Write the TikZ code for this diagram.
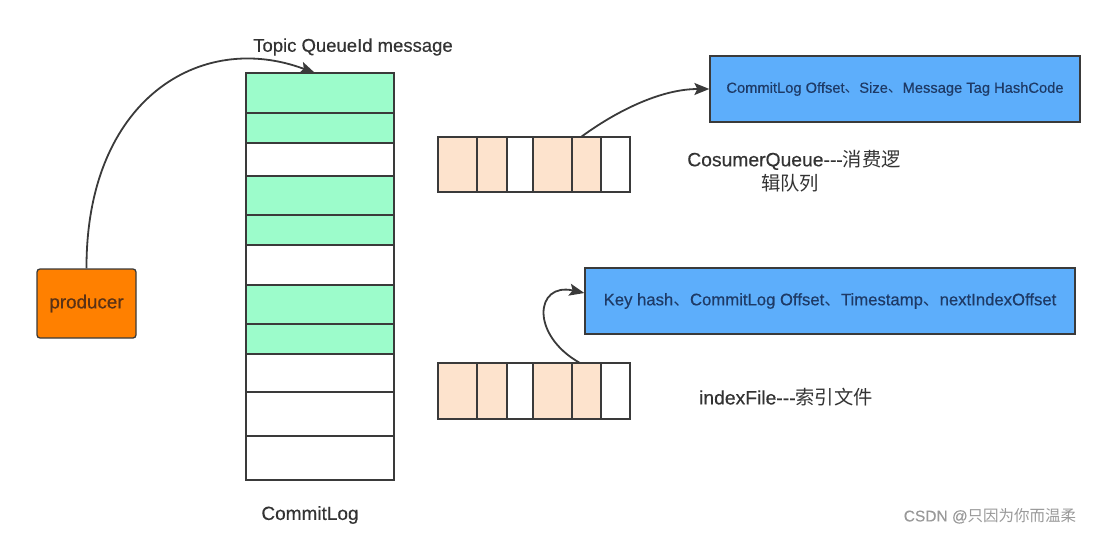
\documentclass[tikz,border=0pt]{standalone}
\usepackage{fontspec}
\setmainfont{Liberation Sans}[FakeBold=0.4]
\newfontfamily\cjk{Noto Sans CJK SC}
\usetikzlibrary{arrows.meta}
\definecolor{mint}{HTML}{9CFCCB}
\definecolor{peach}{HTML}{FDE3CD}
\definecolor{bluebox}{HTML}{5DAEFB}
\definecolor{orangebox}{HTML}{FF8000}
\definecolor{edge}{HTML}{3A3A3A}
\definecolor{txt}{HTML}{333333}
\definecolor{bluetxt}{HTML}{1E3A66}
\definecolor{prodtxt}{HTML}{5A3216}
\newcommand{\cm}{{\cjk 、}}
\tikzset{
  cellbox/.style={draw=edge, line width=1.6pt},
  infobox/.style={draw=edge, line width=1.3pt, fill=bluebox, text=bluetxt, inner sep=0pt},
  lbl/.style={text=txt, inner sep=0pt},
  conn/.style={draw=edge, line width=1.8pt, -{Stealth[length=15pt,width=12pt,inset=3pt]}},
}
\begin{document}
\begin{tikzpicture}[x=1pt,y=-1pt]
\useasboundingbox (0,0) rectangle (1108,535);
% producer
\node[draw=edge, line width=1.3pt, fill=orangebox, rounded corners=3pt, minimum width=99pt, minimum height=69pt, text=prodtxt, font=\fontsize{18.8}{18.8}\selectfont] (producer) at (86.5,303.5) {producer};
% CommitLog cells
\foreach \ya/\yb/\col [count=\i] in {73/113/mint,113/143/mint,143/176/white,176/215/mint,215/245/mint,245/285/white,285/324/mint,324/354/mint,354/392/white,392/436/white,436/480/white}{
  \path[cellbox, fill=\col] (246,\ya) rectangle (394,\yb);
}
\node[lbl, font=\fontsize{18.5}{18.5}\selectfont] (toplbl) at (353,47) {Topic QueueId message};
\node[lbl, font=\fontsize{19}{19}\selectfont] (loglbl) at (310,515) {CommitLog};
\coordinate (logtop) at (315,73);
% consumer queue
\foreach \xa/\xb/\col [count=\i] in {438/477/peach,477/507/peach,507/533/white,533/572/peach,572/601/peach,601/630/white}{
  \path[cellbox, fill=\col] (\xa,137) rectangle (\xb,192);
}
\coordinate (cqstart) at (581,137);
\node[infobox, minimum width=370pt, minimum height=66pt, font=\fontsize{14.7}{14.7}\selectfont] (cqinfo) at (895,89) {CommitLog Offset\cm Size\cm Message Tag HashCode};
\node[lbl, font=\fontsize{19.3}{19.3}\selectfont] (cqlbl1) at (794,160) {CosumerQueue-{}-{}-{\cjk 消费逻}};
\node[lbl, font=\fontsize{19.3}{19.3}\selectfont] (cqlbl2) at (790,183) {\cjk 辑队列};
% index file
\foreach \xa/\xb/\col [count=\i] in {438/477/peach,477/507/peach,507/533/white,533/572/peach,572/601/peach,601/630/white}{
  \path[cellbox, fill=\col] (\xa,363) rectangle (\xb,419);
}
\coordinate (ixstart) at (580,363);
\node[infobox, minimum width=490pt, minimum height=66pt, font=\fontsize{16.7}{16.7}\selectfont] (ixinfo) at (830,301) {Key hash\cm CommitLog Offset\cm Timestamp\cm nextIndexOffset};
\node[lbl, font=\fontsize{19.3}{19.3}\selectfont] (ixlbl) at (786,397) {indexFile-{}-{}-{\cjk 索引文件}};
% connectors
\draw[conn] (producer.north) .. controls (86,100) and (200,30) .. (logtop);
\draw[conn] (cqstart) .. controls (615,112) and (660,89) .. (cqinfo.west);
\draw[conn] (ixstart) .. controls (530,335) and (535,282) .. (ixinfo.west |- 0,293);
% watermark
\node[text=gray!80, inner sep=0pt, font=\fontsize{15.5}{15.5}\selectfont] (wm) at (990,516) {CSDN @{\cjk 只因为你而温柔}};
\end{tikzpicture}
\end{document}
